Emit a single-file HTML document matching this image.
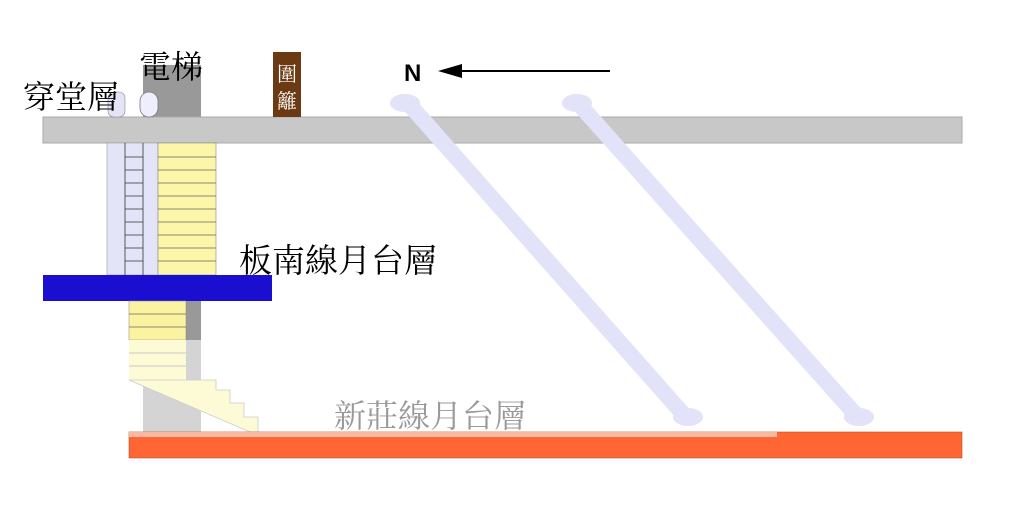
<!DOCTYPE html>
<html><head><meta charset="utf-8"><style>
html,body{margin:0;padding:0;background:#fff;}
svg{display:block;}
text{font-family:"Liberation Serif","Noto Serif CJK SC","Noto Sans CJK TC",serif;}
</style></head><body>
<svg width="1023" height="518" viewBox="0 0 1023 518" xmlns="http://www.w3.org/2000/svg">
<rect width="1023" height="518" fill="#fff"/>
<rect x="143" y="65" width="58" height="52" fill="#999"/>
<rect x="143" y="301" width="58" height="131" fill="#d4d4d4"/>
<rect x="186" y="301" width="15" height="39" fill="#999"/>
<rect x="43" y="117" width="919" height="26" fill="#c8c8c8" stroke="#aaa" stroke-width="1"/>
<rect x="107" y="143" width="51" height="132" fill="#e4e4f8" stroke="#999" stroke-width="0.6"/>
<line x1="125" y1="143" x2="125" y2="275" stroke="#333" stroke-width="0.8"/>
<line x1="143" y1="143" x2="143" y2="275" stroke="#333" stroke-width="0.8"/>
<g stroke="#333" stroke-width="0.8">
<line x1="125" y1="157" x2="143" y2="157"/><line x1="125" y1="170" x2="143" y2="170"/>
<line x1="125" y1="183" x2="143" y2="183"/><line x1="125" y1="196" x2="143" y2="196"/>
<line x1="125" y1="209" x2="143" y2="209"/><line x1="125" y1="222" x2="143" y2="222"/>
<line x1="125" y1="235" x2="143" y2="235"/><line x1="125" y1="248" x2="143" y2="248"/>
<line x1="125" y1="261" x2="143" y2="261"/>
</g>
<rect x="158" y="143" width="58" height="132" fill="#fbf6a8" stroke="#888" stroke-width="0.6"/>
<g stroke="#666" stroke-width="0.8">
<line x1="158" y1="157" x2="216" y2="157"/><line x1="158" y1="170" x2="216" y2="170"/>
<line x1="158" y1="183" x2="216" y2="183"/><line x1="158" y1="196" x2="216" y2="196"/>
<line x1="158" y1="209" x2="216" y2="209"/><line x1="158" y1="222" x2="216" y2="222"/>
<line x1="158" y1="235" x2="216" y2="235"/><line x1="158" y1="248" x2="216" y2="248"/>
<line x1="158" y1="261" x2="216" y2="261"/>
</g>
<rect x="108" y="92" width="17" height="25" rx="6" fill="#e4e4f8" stroke="#888" stroke-width="0.6"/>
<rect x="140" y="92" width="18" height="25" rx="9" fill="#eeeeff" stroke="#777" stroke-width="0.8"/>
<rect x="43" y="275" width="229" height="26" fill="#1a0fd0"/>
<rect x="129" y="301" width="57" height="39" fill="#fbf3a0" stroke="#888" stroke-width="0.5"/>
<line x1="129" y1="314" x2="186" y2="314" stroke="#666" stroke-width="0.8"/>
<line x1="129" y1="327" x2="186" y2="327" stroke="#666" stroke-width="0.8"/>
<rect x="129" y="340" width="57" height="40" fill="#fdfad6"/>
<line x1="129" y1="353" x2="186" y2="353" stroke="#bbb" stroke-width="0.8"/>
<line x1="129" y1="366" x2="186" y2="366" stroke="#bbb" stroke-width="0.8"/>
<polygon points="129,380 216,380 216,390 230,390 230,403 244,403 244,417 258,417 258,432 250,432" fill="#fdfad6" stroke="#ccc" stroke-width="0.8"/>
<g fill="#e2e2f8">
<line x1="408" y1="103" x2="684" y2="415" stroke="#e2e2f8" stroke-width="16" stroke-linecap="round"/>
<ellipse cx="405" cy="103" rx="15" ry="9"/>
<ellipse cx="688" cy="417" rx="15" ry="9"/>
<line x1="578" y1="103" x2="856" y2="415" stroke="#e2e2f8" stroke-width="16" stroke-linecap="round"/>
<ellipse cx="577" cy="103" rx="15" ry="9"/>
<ellipse cx="859" cy="417" rx="15" ry="9"/>
</g>
<rect x="273" y="52" width="28" height="65" fill="#6b3a12"/>
<text x="287" y="81" font-size="20" fill="#fff" text-anchor="middle">圍</text>
<text x="287" y="108" font-size="20" fill="#fff" text-anchor="middle">籬</text>
<rect x="129" y="432" width="833" height="26" fill="#ff6633" stroke="#b05030" stroke-width="0.6"/>
<rect x="129" y="432" width="648" height="5" fill="#f7b9a0"/>
<text x="23" y="108" font-size="32" fill="#000">穿堂層</text>
<text x="139" y="78" font-size="32" fill="#000">電梯</text>
<text x="239" y="272" font-size="33" fill="#000">板南線月台層</text>
<text x="334" y="427" font-size="32" fill="#999">新莊線月台層</text>
<text x="404" y="81" font-size="24" font-weight="bold" fill="#000" style="font-family:'Liberation Sans',sans-serif">N</text>
<line x1="455" y1="71" x2="610" y2="71" stroke="#000" stroke-width="2"/>
<polygon points="438,71 462,64 462,78" fill="#000"/>
</svg>
</body></html>
